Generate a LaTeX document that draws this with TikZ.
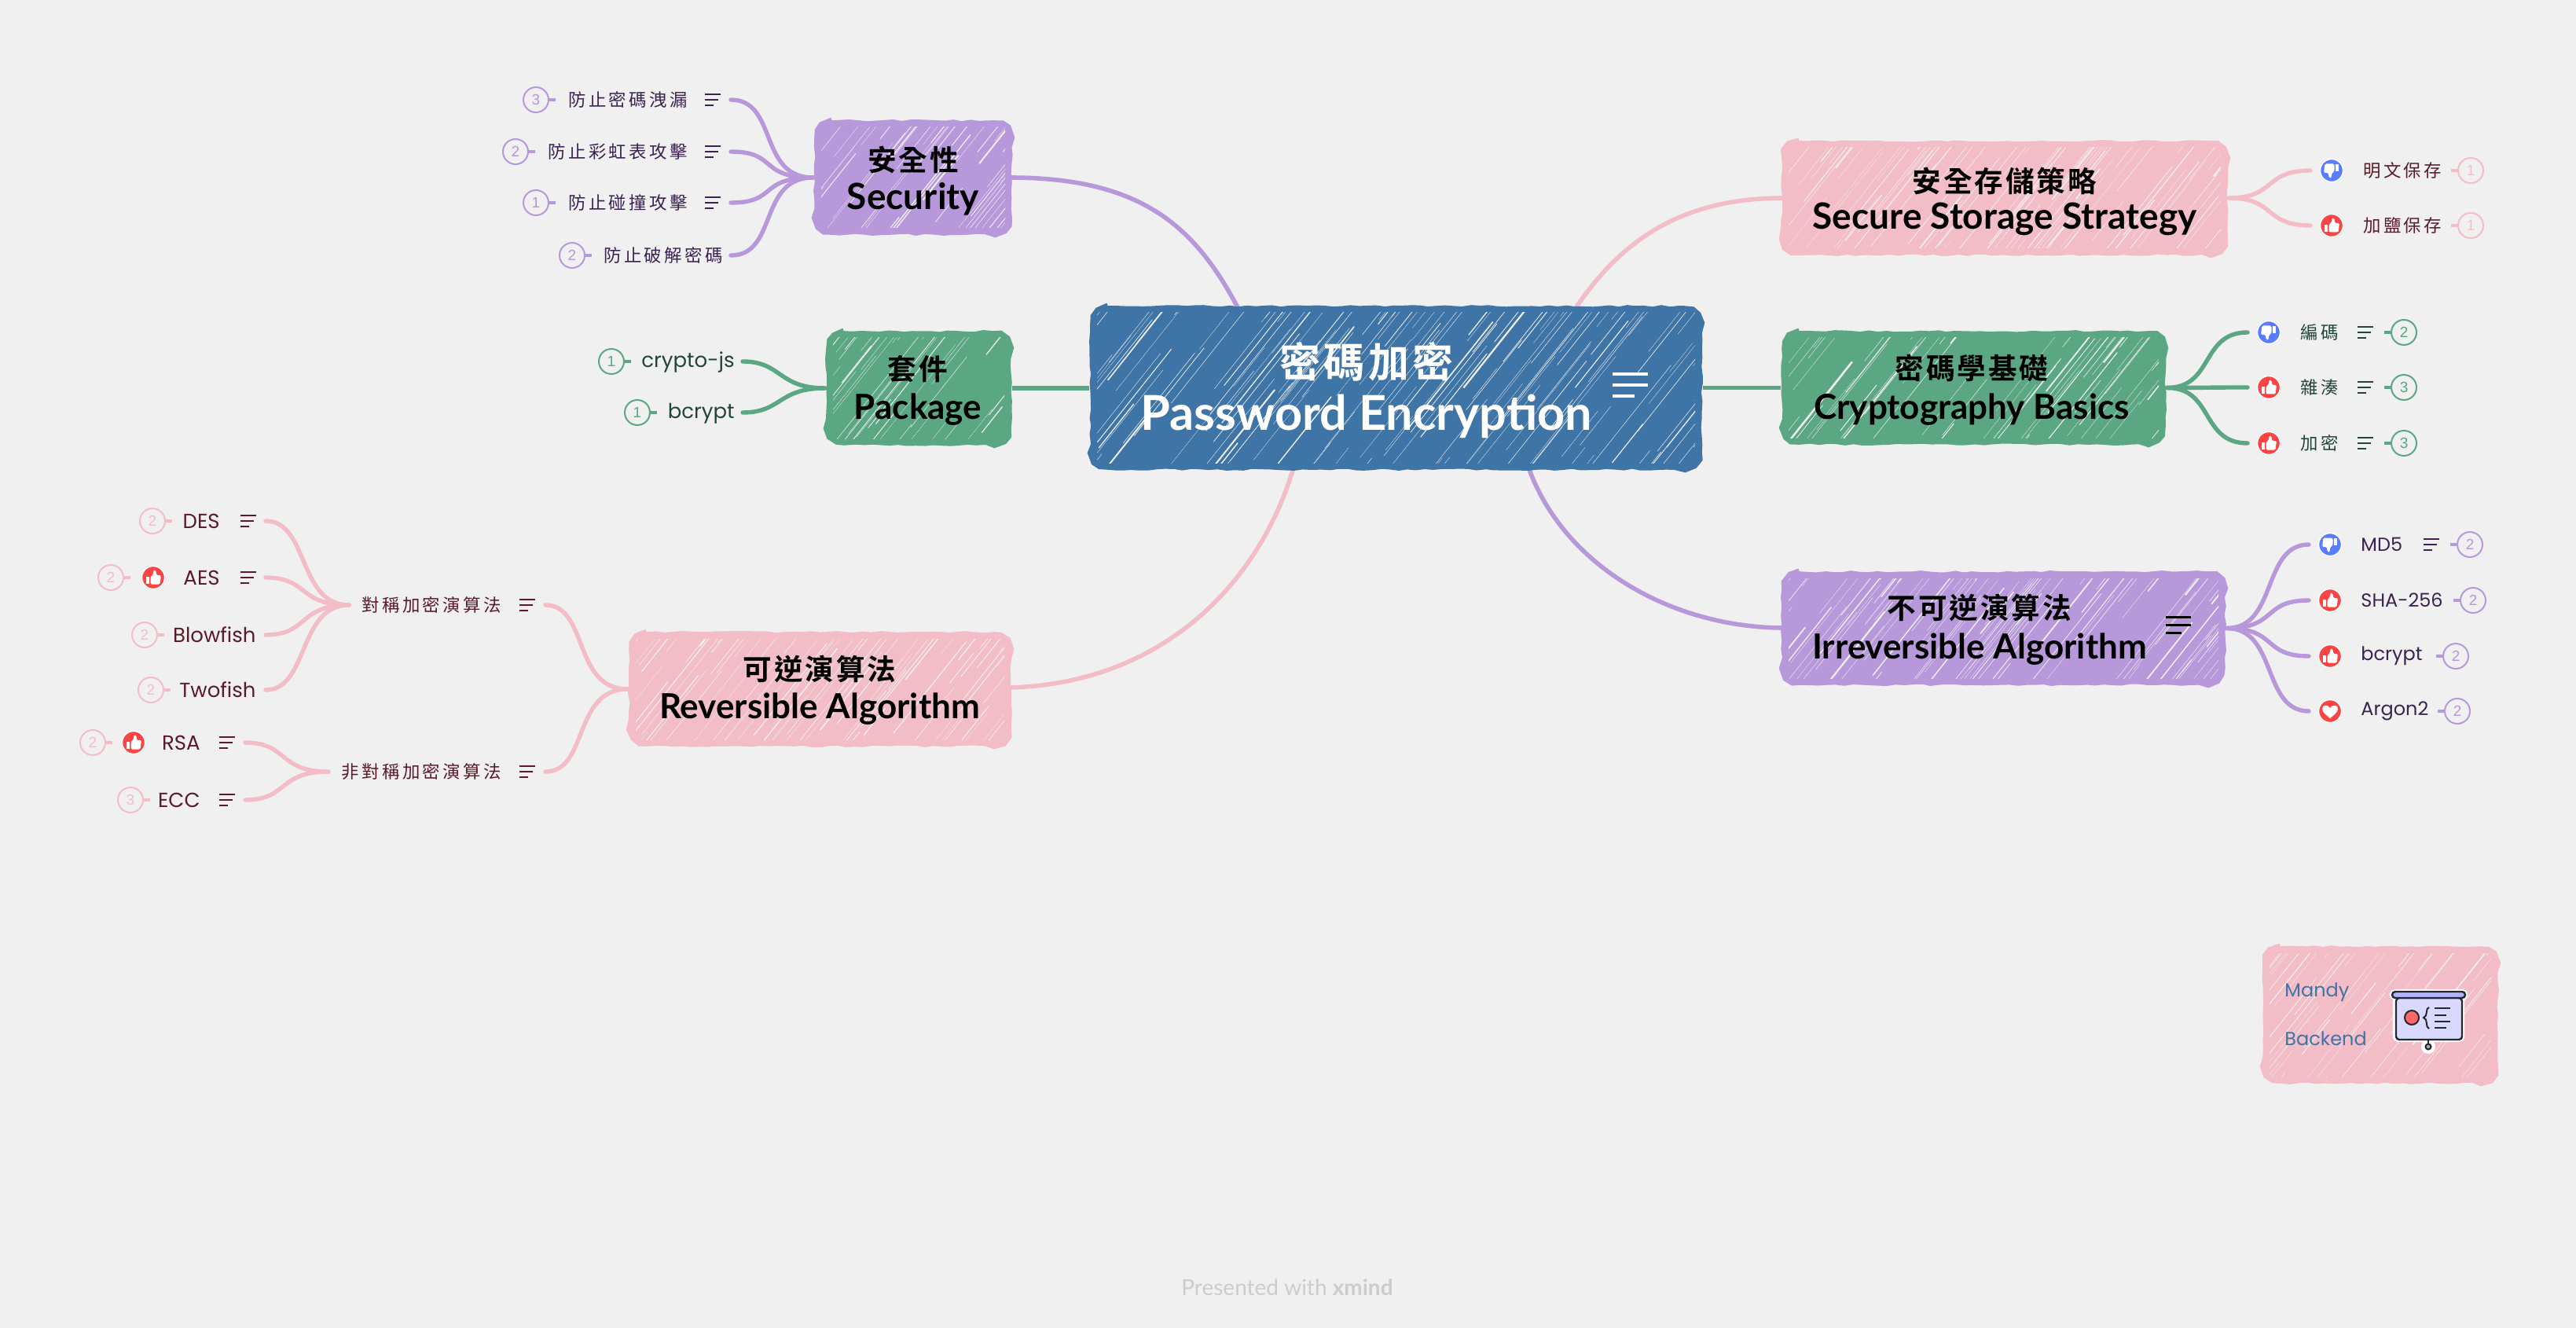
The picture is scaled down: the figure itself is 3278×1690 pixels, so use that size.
\documentclass[tikz,border=0pt]{standalone}
\usepackage{fontspec}
\usetikzlibrary{decorations.pathmorphing,calc}
\setmainfont{Poppins}
\newfontfamily\cjk[LetterSpace=15]{Noto Sans CJK TC}
\newfontfamily\cjkb[LetterSpace=8,BoldFont={Noto Sans CJK TC Bold}]{Noto Sans CJK TC}
\newfontfamily\titlefont{Lato}
\newfontfamily\digitfont{Liberation Sans}
\definecolor{bgc}{HTML}{F0F0F0}
\definecolor{purp}{HTML}{B798DA}
\definecolor{gren}{HTML}{5BA683}
\definecolor{pink}{HTML}{F3BDC8}
\definecolor{blu}{HTML}{3E74A6}
\definecolor{dpurp}{HTML}{3B2252}
\definecolor{dgren}{HTML}{234538}
\definecolor{dpink}{HTML}{5B1A2B}
\definecolor{mred}{HTML}{FB4444}
\definecolor{mblue}{HTML}{5A7DFF}
\tikzset{
  topicbox/.style={inner sep=0pt},
  roughbox/.style={draw=#1,fill=#1,line width=.8pt,
    decorate,decoration={random steps,segment length=5.5pt,amplitude=.6pt}},
  conn/.style={draw=#1,line width=2.7pt,line cap=round},
  mainconn/.style={draw=#1,line width=2.8pt},
  badgec/.style={circle,draw=#1,line width=1pt,text=#1,minimum size=16pt,inner sep=0pt,
    font=\digitfont\fontsize{9.5}{10}\selectfont},
  stem/.style={draw=#1,line width=1.6pt},
  leaf/.style={inner sep=0pt,text=#1,font=\fontsize{12}{14}\selectfont},
  leafb/.style={inner sep=0pt,text=#1,font=\fontsize{13}{15}\selectfont},
  cleaf/.style={inner sep=0pt,text=#1,font=\cjk\fontsize{11.2}{13}\selectfont},
  ttl/.style={inner sep=0pt,text=black,font=\titlefont\bfseries\fontsize{22}{24}\selectfont},
  ttlb/.style={inner sep=0pt,text=black,font=\titlefont\bfseries\fontsize{23}{25}\selectfont},
  cttl/.style={inner sep=0pt,text=black,font=\cjkb\bfseries\fontsize{18.3}{22}\selectfont},
  marker/.style={circle,fill=#1,draw=white,line width=.7pt,minimum size=14.5pt,inner sep=0pt},
}
% box with hatching: name x1 y1 x2 y2 colour count seed
\newcommand\topic[8]{%
  \pgfmathsetseed{#8}
  \node[topicbox,minimum width={(#4-#2)*0.5pt},minimum height={(#5-#3)*0.5pt}] (#1) at ({(#2+#4)/2},{(#3+#5)/2}) {};
  \path[roughbox=#6]
    ({#2+24},{#3+2}) -- ({#4-24},{#3+2})
    .. controls ({#4-10},{#3+2}) and ({#4-2},{#3+12}) .. ({#4-2},{#3+24})
    -- ({#4-2},{#5-24})
    .. controls ({#4-2},{#5-12}) and ({#4-10},{#5-2}) .. ({#4-24},{#5-2})
    -- ({#2+24},{#5-2})
    .. controls ({#2+10},{#5-2}) and ({#2+2},{#5-12}) .. ({#2+2},{#5-24})
    -- ({#2+2},{#3+24})
    .. controls ({#2+2},{#3+12}) and ({#2+10},{#3+2}) .. ({#2+24},{#3+2}) -- cycle;
  \begin{scope}
    \clip ({#2+10},{#3+10}) rectangle ({#4-10},{#5-10});
    \foreach \i in {1,...,#7} {
      \pgfmathsetmacro\hx{#2-40+rnd*(#4-#2+40)}
      \pgfmathsetmacro\hy{#3+rnd*(#5-#3+60)}
      \pgfmathsetmacro\hl{40+rnd*170}
      \pgfmathsetmacro\hw{0.12+rnd*rnd*rnd*1.5}
      \draw[bgc,line width=\hw pt] (\hx,\hy) -- ++({\hl*0.62},{-\hl*0.78});
    }
  \end{scope}
}
\newcommand\noteicon[3]{% left x, centre y, colour
  \draw[#3,line width=.7pt] (#1,{#2-7}) -- ++(20,0) (#1,#2) -- ++(17,0) (#1,{#2+7}) -- ++(11,0);
}
\newcommand\badgeL[5]{% name, cx, y, num, colour : stem at the right
  \node[badgec=#5] (#1) at (#2,#3) {#4};
  \draw[stem=#5] (#1.east) -- ++(8,0);
}
\newcommand\badgeR[5]{% stem at the left
  \node[badgec=#5] (#1) at (#2,#3) {#4};
  \draw[stem=#5] (#1.west) -- ++(-8,0);
}
\newcommand\thumbup[3]{% name, cx, y
  \node[marker=mred] (#1) at (#2,#3) {};
  \begin{scope}[shift={(#1.center)}]
    \fill[white] (-9,-1) rectangle (-5,8);
    \fill[white,rounded corners=.8pt] (-3.5,8.5) -- (-3.5,-1) -- (0,-4) -- (0.5,-10) -- (3.5,-9) -- (4,-3) -- (10,-3) -- (8.5,8.5) -- cycle;
  \end{scope}
}
\newcommand\thumbdown[3]{%
  \node[marker=mblue] (#1) at (#2,#3) {};
  \begin{scope}[shift={(#1.center)},rotate=180]
    \fill[white] (-9,-1) rectangle (-5,8);
    \fill[white,rounded corners=.8pt] (-3.5,8.5) -- (-3.5,-1) -- (0,-4) -- (0.5,-10) -- (3.5,-9) -- (4,-3) -- (10,-3) -- (8.5,8.5) -- cycle;
  \end{scope}
}
\newcommand\heartm[3]{%
  \node[marker=mred] (#1) at (#2,#3) {};
  \begin{scope}[shift={(#1.center)}]
    \fill[white] (0,9) .. controls (-5,5) and (-10,1) .. (-10,-3) .. controls (-10,-8) and (-3,-9) .. (0,-4) .. controls (3,-9) and (10,-8) .. (10,-3) .. controls (10,1) and (5,5) .. (0,9) -- cycle;
  \end{scope}
}
\begin{document}
\begin{tikzpicture}[x=0.5pt,y=-0.5pt]
\useasboundingbox[fill=bgc] (0,0) rectangle (3278,1690);

% ---------- main connectors first, so that the boxes cover their ends
\coordinate (cSec) at (1577,395);
\coordinate (cSto) at (2003,395);
\coordinate (cRev) at (1647,592);
\coordinate (cIrr) at (1944,592);
\coordinate (eSec) at (1285,226);
\coordinate (eSto) at (2270,252);
\coordinate (eRev) at (1285,875);
\coordinate (eIrr) at (2270,799);
\draw[mainconn=purp] (eSec) .. controls +(170,0) and +(-55,-105) .. (cSec);
\draw[mainconn=pink] (cSto) .. controls +(60,-90) and +(-130,0) .. (eSto);
\draw[mainconn=pink] (eRev) .. controls +(190,-5) and +(-45,155) .. (cRev);
\draw[mainconn=purp] (cIrr) .. controls +(45,130) and +(-140,0) .. (eIrr);

% ---------- boxes
\topic{central}{1386}{388}{2167}{599}{blu}{170}{11}
\topic{sec}{1035}{152}{1289}{300}{purp}{56}{12}
\topic{pkg}{1050}{420}{1288}{568}{gren}{42}{13}
\topic{rev}{799}{803}{1288}{951}{pink}{95}{14}
\topic{sto}{2266}{178}{2836}{326}{pink}{110}{15}
\topic{cry}{2266}{420}{2757}{567}{gren}{75}{16}
\topic{irr}{2266}{726}{2833}{873}{purp}{110}{17}
\topic{cred}{2878}{1203}{3180}{1380}{pink}{60}{18}

\draw[mainconn=gren] (pkg.east) -- (pkg.east -| central.west);
\draw[mainconn=gren] (central.east |- cry.west) -- (cry.west);

% ---------- box texts
\node[inner sep=0pt,text=white,font=\cjkb\bfseries\fontsize{26}{30}\selectfont] (tc1) at (1739,460) {密碼加密};
\node[inner sep=0pt,text=white,font=\titlefont\bfseries\fontsize{30.6}{34}\selectfont] (tc2) at (1739,530) {Password Encryption};
\draw[white,line width=2pt] (2052,476) -- ++(45,0) (2052,490) -- ++(45,0) (2052,504) -- ++(28,0);
\node[cttl] (t1a) at (1162,203) {安全性};
\node[ttlb] (t1b) at (1162,253) {Security};
\node[cttl] (t2a) at (1168,470) {套件};
\node[ttl] (t2b) at (1168,521) {Package};
\node[cttl] (t3a) at (1043,851) {可逆演算法};
\node[ttl] (t3b) at (1043,902) {Reversible Algorithm};
\node[cttl] (t4a) at (2551,230) {安全存儲策略};
\node[ttlb] (t4b) at (2551,279) {Secure Storage Strategy};
\node[cttl] (t5a) at (2509,468) {密碼學基礎};
\node[ttl] (t5b) at (2509,521) {Cryptography Basics};
\node[cttl] (t6a) at (2519,773) {不可逆演算法};
\node[ttl] (t6b) at (2519,826) {Irreversible Algorithm};
\draw[black,line width=1.5pt] (2756,785) -- ++(32,0) (2756,795) -- ++(32,0) (2756,805) -- ++(20,0);

% ---------- Security leaves
\coordinate (s1) at (930,127); \coordinate (s2) at (930,193); \coordinate (s3) at (930,258); \coordinate (s4) at (930,325);
\foreach \e in {s1,s2,s3,s4} \draw[conn=purp] (sec.west) .. controls +(-70,0) and +(60,0) .. (\e);
\node[cleaf=dpurp,anchor=east] (sl1) at (875,127) {防止密碼洩漏};
\node[cleaf=dpurp,anchor=east] (sl2) at (875,193) {防止彩虹表攻擊};
\node[cleaf=dpurp,anchor=east] (sl3) at (875,258) {防止碰撞攻擊};
\node[cleaf=dpurp,anchor=east] (sl4) at (920,325) {防止破解密碼};
\noteicon{897}{127}{dpurp}\noteicon{897}{193}{dpurp}\noteicon{897}{258}{dpurp}
\badgeL{sb1}{682}{127}{3}{purp}
\badgeL{sb2}{656}{193}{2}{purp}
\badgeL{sb3}{682}{258}{1}{purp}
\badgeL{sb4}{728}{325}{2}{purp}

% ---------- Package leaves
\coordinate (p1) at (945,460); \coordinate (p2) at (945,525);
\foreach \e in {p1,p2} \draw[conn=gren] (pkg.west) .. controls +(-60,0) and +(50,0) .. (\e);
\node[leafb=dgren,anchor=east] (pl1) at (935,461) {crypto-js};
\node[leafb=dgren,anchor=east] (pl2) at (935,526) {bcrypt};
\badgeL{pb1}{778}{460}{1}{gren}
\badgeL{pb2}{811}{525}{1}{gren}

% ---------- Reversible leaves
\coordinate (r1) at (694,770); \coordinate (r2) at (694,982);
\foreach \e in {r1,r2} \draw[conn=pink] (rev.west) .. controls +(-70,0) and +(55,0) .. (\e);
\node[cleaf=dpink,anchor=east] (rm1) at (638,770) {對稱加密演算法};
\node[cleaf=dpink,anchor=east] (rm2) at (638,982) {非對稱加密演算法};
\noteicon{661}{770}{dpink}\noteicon{661}{982}{dpink}
\coordinate (m1) at (444,770); \coordinate (m2) at (418,982);
\coordinate (a1) at (338,663); \coordinate (a2) at (338,735); \coordinate (a3) at (338,808); \coordinate (a4) at (338,878);
\coordinate (a5) at (312,945); \coordinate (a6) at (312,1018);
\foreach \e in {a1,a2,a3,a4} \draw[conn=pink] (m1) .. controls +(-65,0) and +(55,0) .. (\e);
\foreach \e in {a5,a6} \draw[conn=pink] (m2) .. controls +(-65,0) and +(55,0) .. (\e);
\node[leafb=dpink,anchor=east] (la1) at (280,663) {DES};
\node[leafb=dpink,anchor=east] (la2) at (280,735) {AES};
\node[leafb=dpink,anchor=east] (la3) at (326,808) {Blowfish};
\node[leafb=dpink,anchor=east] (la4) at (326,878) {Twofish};
\node[leafb=dpink,anchor=east] (la5) at (255,945) {RSA};
\node[leafb=dpink,anchor=east] (la6) at (255,1018) {ECC};
\noteicon{306}{663}{dpink}\noteicon{306}{735}{dpink}\noteicon{279}{945}{dpink}\noteicon{279}{1018}{dpink}
\badgeL{ab1}{194}{663}{2}{pink}
\badgeL{ab2}{141}{735}{2}{pink}
\badgeL{ab3}{184}{808}{2}{pink}
\badgeL{ab4}{192}{878}{2}{pink}
\badgeL{ab5}{118}{945}{2}{pink}
\badgeL{ab6}{166}{1018}{3}{pink}
\thumbup{am2}{195}{735}
\thumbup{am5}{170}{945}

% ---------- Storage leaves
\coordinate (t1) at (2940,217); \coordinate (t2) at (2940,287);
\foreach \e in {t1,t2} \draw[conn=pink] (sto.east) .. controls +(60,0) and +(-60,0) .. (\e);
\thumbdown{tm1}{2967}{217}
\thumbup{tm2}{2967}{287}
\node[cleaf=dpink,anchor=west] (tl1) at (3007,217) {明文保存};
\node[cleaf=dpink,anchor=west] (tl2) at (3007,287) {加鹽保存};
\badgeR{tb1}{3144}{217}{1}{pink}
\badgeR{tb2}{3144}{287}{1}{pink}

% ---------- Crypto basics leaves
\coordinate (c1) at (2860,423); \coordinate (c2) at (2860,493); \coordinate (c3) at (2860,564);
\foreach \e in {c1,c2,c3} \draw[conn=gren] (cry.east) .. controls +(60,0) and +(-60,0) .. (\e);
\thumbdown{cm1}{2887}{423}
\thumbup{cm2}{2887}{493}
\thumbup{cm3}{2887}{564}
\node[cleaf=dgren,anchor=west] (cl1) at (2927,423) {編碼};
\node[cleaf=dgren,anchor=west] (cl2) at (2927,493) {雜湊};
\node[cleaf=dgren,anchor=west] (cl3) at (2927,564) {加密};
\noteicon{3000}{423}{dgren}\noteicon{3000}{493}{dgren}\noteicon{3000}{564}{dgren}
\badgeR{cb1}{3059}{423}{2}{gren}
\badgeR{cb2}{3059}{493}{3}{gren}
\badgeR{cb3}{3059}{564}{3}{gren}

% ---------- Irreversible leaves
\coordinate (i1) at (2938,693); \coordinate (i2) at (2938,764); \coordinate (i3) at (2938,835); \coordinate (i4) at (2938,905);
\foreach \e in {i1,i2,i3,i4} \draw[conn=purp] (irr.east) .. controls +(65,0) and +(-60,0) .. (\e);
\thumbdown{im1}{2965}{693}
\thumbup{im2}{2965}{764}
\thumbup{im3}{2965}{835}
\heartm{im4}{2965}{905}
\node[leaf=dpurp,anchor=west] (il1) at (3004,693) {MD5};
\node[leaf=dpurp,anchor=west] (il2) at (3004,764) {SHA-256};
\node[leaf=dpurp,anchor=west] (il3) at (3004,835) {bcrypt};
\node[leaf=dpurp,anchor=west] (il4) at (3004,905) {Argon2};
\noteicon{3084}{693}{dpurp}
\badgeR{ib1}{3143}{693}{2}{purp}
\badgeR{ib2}{3147}{764}{2}{purp}
\badgeR{ib3}{3125}{835}{2}{purp}
\badgeR{ib4}{3127}{905}{2}{purp}

% ---------- credit box
\node[leaf=blu,anchor=west] (cr1) at (2907,1263) {Mandy};
\node[leaf=blu,anchor=west] (cr2) at (2907,1322) {Backend};
\definecolor{ink}{HTML}{24272E}
\draw[white,line width=3.2pt,rounded corners=2pt] (3048,1270) rectangle (3133,1323);
\draw[white,line width=3.2pt,rounded corners=2pt] (3044,1262) rectangle (3137,1270);
\draw[white,line width=2.5pt] (3090,1323) -- (3090,1330);
\fill[white] (3090,1332) circle (9);
\draw[ink,fill=ink!40!white,line width=1pt] (3090,1332) circle (3.5);
\draw[ink,line width=1pt] (3090,1323) -- (3090,1328);
\draw[ink,fill=blue!15!white,line width=1.2pt,rounded corners=2pt] (3049,1270) rectangle (3133,1323);
\draw[ink,fill=blue!30!white,line width=1.2pt,rounded corners=2pt] (3044,1262) rectangle (3137,1270);
\draw[ink,fill=red!60!white,line width=1pt] (3069,1295) circle (9);
\draw[ink,line width=1pt] (3091,1282) .. controls (3086,1282) and (3090,1294) .. (3084,1295) .. controls (3090,1296) and (3086,1308) .. (3091,1309);
\draw[ink,line width=1pt] (3098,1283) -- (3118,1283) (3098,1292) -- (3113,1292) (3098,1300) -- (3118,1300) (3098,1308) -- (3113,1308);

% ---------- footer
\node[inner sep=0pt,text=black!20,font=\titlefont\fontsize{14}{16}\selectfont] (foot) at (1638,1638) {Presented with \textbf{xmind}};
\end{tikzpicture}
\end{document}
